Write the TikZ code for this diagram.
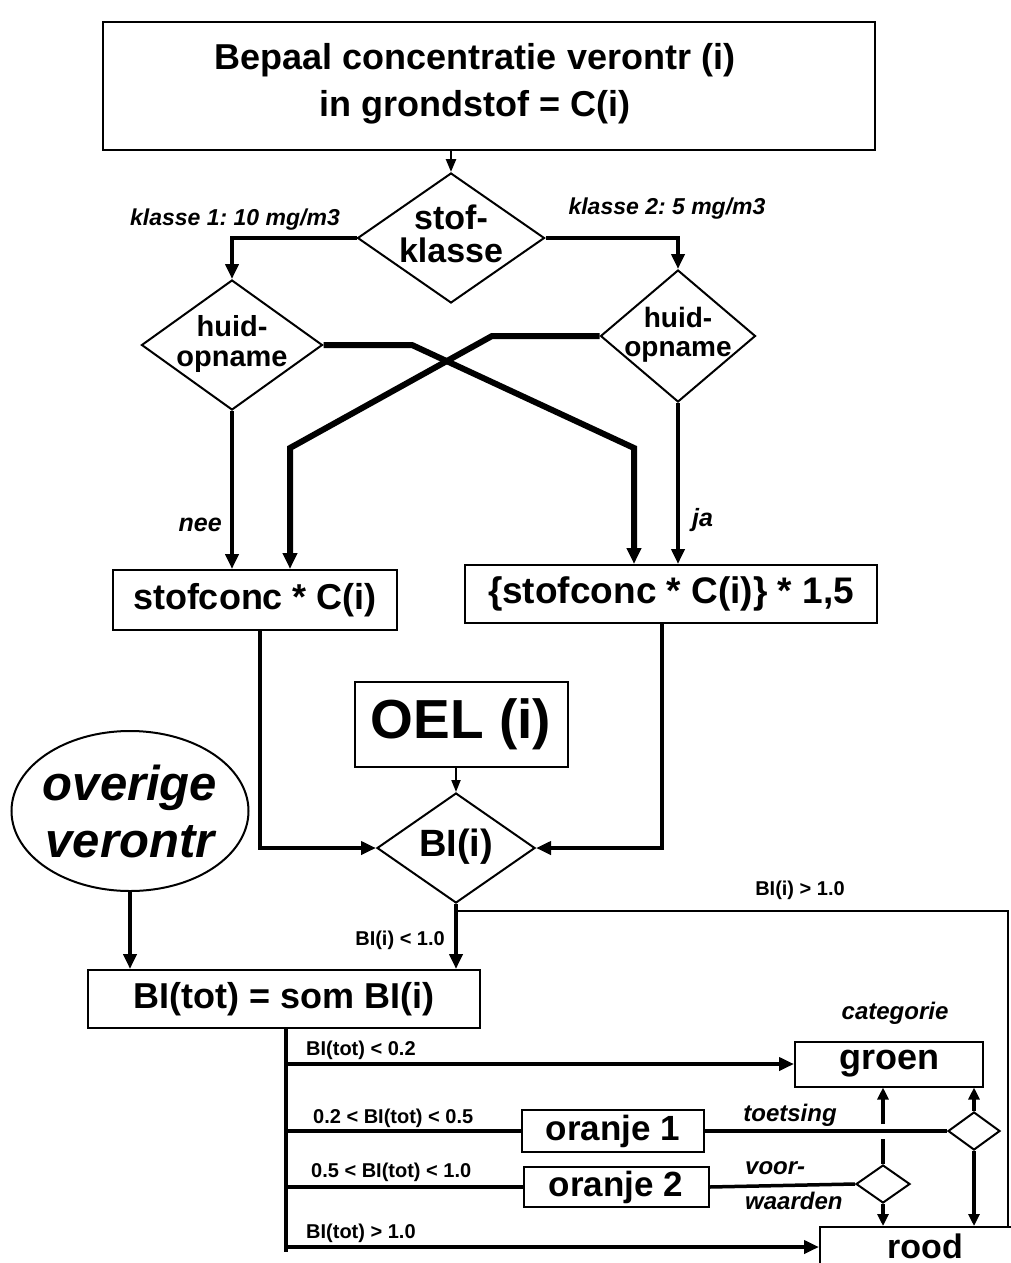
\documentclass[tikz,border=0pt]{standalone}
\usepackage{fontspec}
\setmainfont{Liberation Sans}
\usetikzlibrary{shapes.geometric,arrows.meta}
\newcommand\fsz[2]{\fontsize{#1}{#2}\selectfont}
\newcommand\ztxt[1]{\makebox[0pt]{\begin{tabular}{@{}c@{}}#1\end{tabular}}}
\frenchspacing
\begin{document}
\begin{tikzpicture}[x=1pt,y=-1pt,
  boxn/.style={draw, line width=2pt, inner sep=0pt, font=\bfseries\fsz{36}{36}},
  dian/.style={draw, diamond, line width=2pt, inner sep=0pt, font=\bfseries},
  labn/.style={inner sep=0pt, font=\bfseries\itshape\fsz{23}{23}},
  smalllab/.style={inner sep=0pt, font=\bfseries\fsz{20}{20}},
  heavyarrow/.style={line width=4.5pt, -{Triangle[length=15pt,width=13pt]}},
  heavyln/.style={line width=4.5pt},
  crossarrow/.style={line width=6pt, -{Triangle[length=16pt,width=14pt]}},
  lightarrow/.style={line width=2.5pt, -{Triangle[length=13pt,width=10pt]}},
  lightln/.style={line width=2.5pt},
  midarrow/.style={line width=4pt, -{Triangle[length=12pt,width=11pt]}},
  midln/.style={line width=3.5pt}
]
\useasboundingbox (0,0) rectangle (1011,1263);
\fill[white] (0,0) rectangle (1011,1263);

% top
\node[boxn, minimum width=772, minimum height=128] (top) at (489,86) {};
\node[align=center, inner sep=0pt, font=\bfseries\fsz{36}{47}] (toptxt) at (475,84) {Bepaal concentratie verontr (i)\\in grondstof = C(i)};
\node[dian, minimum width=187, minimum height=130, font=\bfseries\fsz{34}{30}] (sk) at (451,238) {\ztxt{stof-\\klasse}};
\draw[lightarrow] (top.south -| sk.north) -- (sk.north);

\node[labn] (k1) at (235,220) {klasse 1: 10 mg/m3};
\node[labn] (k2) at (667,209) {klasse 2: 5 mg/m3};

\node[dian, minimum width=181, minimum height=130, font=\bfseries\fsz{29}{30}] (h1) at (232,345) {\ztxt{huid-\\opname}};
\node[dian, minimum width=155, minimum height=132, font=\bfseries\fsz{28}{29}] (h2) at (678,336) {\ztxt{huid-\\opname}};
\draw[heavyarrow] (sk.west) -| (h1.north);
\draw[heavyarrow] (sk.east) -| (h2.north);

\node[boxn, minimum width=284, minimum height=60] (b1) at (255,600) {stofconc * C(i)};
\node[boxn, minimum width=412, minimum height=58, font=\bfseries\fsz{37}{37}] (b2) at (671,594) {\{stofconc * C(i)\} * 1,5};

\coordinate (c1) at (412,345);
\coordinate (c2) at (634,448);
\coordinate (c3) at (492,336);
\coordinate (c4) at (290,448);
\draw[crossarrow] (h1.east) -- (c1) -- (c2) -- (c2 |- b2.north);
\draw[crossarrow] (h2.west) -- (c3) -- (c4) -- (c4 |- b1.north);

\draw[heavyarrow] (h1.south) -- (h1.south |- b1.north);
\draw[heavyarrow] (h2.south) -- (h2.south |- b2.north);
\node[labn, anchor=east, font=\bfseries\itshape\fsz{25}{25}] (nee) at (222,525) {nee};
\node[labn, anchor=west, font=\bfseries\itshape\fsz{25}{25}] (ja) at (692,520) {ja};

% OEL and BI
\node[boxn, minimum width=213, minimum height=85, font=\bfseries\fsz{55}{55}] (oel) at (461,724) {OEL (i)};
\node[dian, minimum width=158, minimum height=110, font=\bfseries\fsz{38}{38}] (bi) at (456,848) {\ztxt{BI(i)}};
\draw[line width=2pt, -{Triangle[length=12pt,width=9pt]}] (oel.south -| bi.north) -- (bi.north);

\coordinate (l1) at (260,848);
\coordinate (r1) at (662,848);
\draw[heavyarrow] (b1.south -| l1) -- (l1) -- (bi.west);
\draw[heavyarrow] (b2.south -| r1) -- (r1) -- (bi.east);

% overige
\node[draw, ellipse, line width=2pt, minimum width=237, minimum height=160, inner sep=0pt] (ov) at (130,811) {};
\node[font=\bfseries\itshape\fsz{49}{57}, align=center, inner sep=0pt] (ovt) at (ov.center) {overige\\verontr};

% BI(tot)
\node[boxn, minimum width=392, minimum height=58] (bt) at (284,999) {BI(tot) = som BI(i)};
\draw[heavyarrow] (ov.south) -- (ov.south |- bt.north);
\draw[heavyarrow] (bi.south) -- (bi.south |- bt.north);
\node[smalllab, anchor=east] (llt) at (445,940) {BI(i) < 1.0};

% categories
\node[boxn, minimum width=188, minimum height=45] (gr) at (889,1064) {groen};
\node[boxn, minimum width=182, minimum height=42, font=\bfseries\fsz{35}{35}] (o1) at (613,1131) {oranje 1};
\node[boxn, minimum width=185, minimum height=40, font=\bfseries\fsz{35}{35}] (o2) at (616,1187) {oranje 2};
\node[boxn, minimum width=210, minimum height=50] (rood) at (925,1252) {};
\node[inner sep=0pt, font=\bfseries\fsz{34}{34}] (roodtxt) at (925,1246) {rood};
\node[labn, font=\bfseries\itshape\fsz{24}{24}] (cat) at (895,1013) {categorie};

\coordinate (gt) at (1008,911);
\draw[lightln] (bi.south |- gt) -- (gt) -- (gt |- rood.north);
\node[smalllab] (lgt) at (800,890) {BI(i) > 1.0};

\coordinate (tr) at (286,1252);
\draw[heavyln] (bt.south -| tr) -- (tr);
\draw[heavyarrow] (gr.west -| tr) -- (gr.west);
\draw[heavyln] (o1.west -| tr) -- (o1.west);
\draw[heavyln] (o2.west -| tr) -- (o2.west);
\draw[heavyarrow] (tr |- 0,1247) -- ([yshift=5pt]rood.west);

\node[smalllab, anchor=west] (t1) at (306,1050) {BI(tot) < 0.2};
\node[smalllab, anchor=west] (t2) at (313,1118) {0.2 < BI(tot) < 0.5};
\node[smalllab, anchor=west] (t3) at (311,1172) {0.5 < BI(tot) < 1.0};
\node[smalllab, anchor=west] (t4) at (306,1233) {BI(tot) > 1.0};

\node[dian, minimum width=52, minimum height=38] (rd) at (974,1131) {};
\node[dian, minimum width=54, minimum height=38] (sd) at (883,1184) {};
\draw[midln] (o1.east) -- (rd.west);
\draw[midln] (o2.east) -- (sd.west);
\node[labn, font=\bfseries\itshape\fsz{24}{24}] (toe) at (790,1115) {toetsing};
\node[labn, anchor=west, font=\bfseries\itshape\fsz{24}{24}] (voor) at (745,1168) {voor-};
\node[labn, anchor=west, font=\bfseries\itshape\fsz{24}{24}] (waar) at (745,1201) {waarden};

\draw[midarrow] (rd.north) -- (rd.north |- gr.south);
\draw[midarrow] (rd.south) -- (rd.south |- rood.north);
\draw[midarrow] (sd.south) -- (sd.south |- rood.north);
\draw[midln] (sd.north) -- ++(0,-25);
\draw[midarrow] ([yshift=40pt]sd.north) -- (sd.north |- gr.south);
\end{tikzpicture}
\end{document}
